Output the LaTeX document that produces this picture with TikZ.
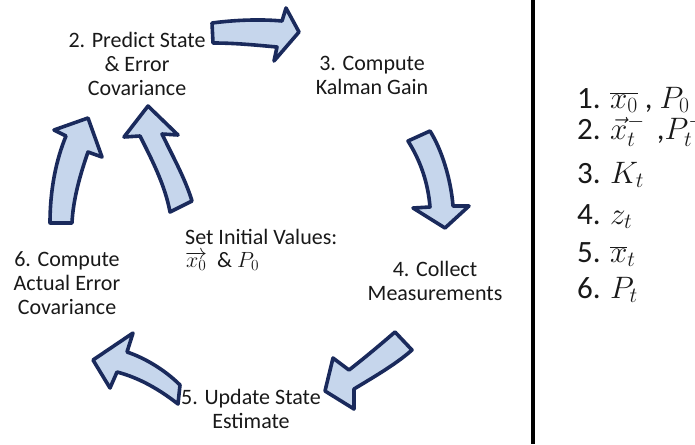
\RequirePackage{fix-cm}
\documentclass[tikz,border=0pt]{standalone}
\usepackage{fontspec}
\setmainfont{Carlito}
\definecolor{arrowfill}{RGB}{198,214,236}
\definecolor{arrowline}{RGB}{26,42,92}
\definecolor{txt}{RGB}{25,25,25}
\tikzset{
  blockarrow/.style={draw=arrowline, fill=arrowfill, line width=3.6pt, line join=round},
  steptext/.style={inner sep=0pt, align=center, anchor=north, text=txt, font=\fontsize{22}{24}\selectfont},
  listtext/.style={inner sep=0pt, anchor=base west, text=txt, font=\fontsize{31}{34}\selectfont},
}
\begin{document}
\begin{tikzpicture}[x=1pt,y=-1pt]
\useasboundingbox (0,0) rectangle (695,444);
\fill[white] (0,0) rectangle (695,444);

% step labels
\node[steptext] (n2) at (137,32.5) {2. Predict State\\\& Error\\Covariance};
\node[steptext] (n3) at (372,56) {3. Compute\\Kalman Gain};
\node[steptext] (n4) at (435,261.5) {4. Collect\\Measurements};
\node[steptext] (n5) at (251,389.5) {5. Update State\\Estimate};
\node[steptext] (n6) at (67,251) {6. Compute\\Actual Error\\Covariance};
\node[steptext, align=left, anchor=north west, font=\fontsize{22}{23}\selectfont] (init) at (185,229)
  {Set Initial Values:\\$\overrightarrow{x_0}$\ \ \& $P_0$};

% arrows
\path[blockarrow] (212,23) .. controls (235,20) and (260,19) .. (282,21) -- (286,8) -- (299,32)
  -- (274,61) -- (277,47) .. controls (255,45) and (235,43) .. (213,43) -- cycle;
\path[blockarrow] (408,141) -- (430,131) .. controls (442,150) and (451,180) .. (453,206)
  -- (469,206) -- (445,228) -- (413,208) -- (430,207) .. controls (428,182) and (420,160) .. (408,141) -- cycle;
\path[blockarrow] (395,332) .. controls (380,345) and (362,360) .. (349,370) -- (333,358) -- (325,391)
  -- (354,409) -- (354,389) .. controls (372,378) and (395,365) .. (412,350) -- cycle;
\path[blockarrow] (180,385) .. controls (165,370) and (145,358) .. (127,352) -- (133,333) -- (93,360)
  -- (110,388) -- (117,372) .. controls (140,378) and (160,390) .. (178,404) -- cycle;
\path[blockarrow] (50,223) .. controls (50,190) and (56,160) .. (66,136) -- (54,130) -- (88,118)
  -- (102,157) -- (88,152) .. controls (80,175) and (73,200) .. (72,223) -- cycle;
\path[blockarrow] (170,212) .. controls (165,185) and (152,160) .. (140,136) -- (124,137) -- (148,106)
  -- (178,135) -- (162,134) .. controls (172,155) and (185,178) .. (192,201) -- cycle;

% divider
\draw[line width=4pt, black] (533,0) -- (533,444);

% list
\node[listtext] (l1) at (577,108) {1. $\overline{x_0}$ , $P_0$};
\node[listtext] (l2) at (577,139) {2. $\vec{x}_t^-$\ \,,$P_t^-$};
\node[listtext] (l3) at (577,183) {3. $K_t$};
\node[listtext] (l4) at (577,224) {4. $z_t$};
\node[listtext] (l5) at (577,262) {5. $\overline{x}_t$};
\node[listtext] (l6) at (577,298) {6. $P_t$};
\end{tikzpicture}
\end{document}
